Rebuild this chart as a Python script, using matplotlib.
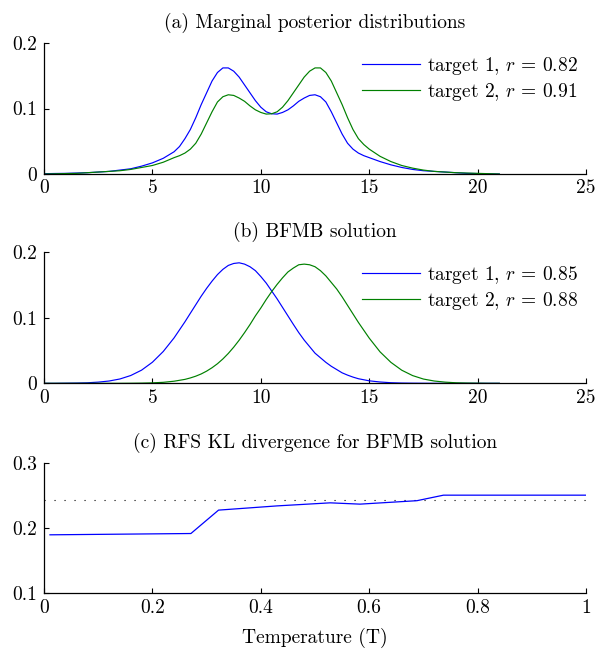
"""
Marginal posteriors, BFMB solution and RFS KL divergence vs temperature.
"""

import matplotlib
matplotlib.use('Agg')
import matplotlib.pyplot as plt

# ---- data ----
# (a) marginal posteriors: coarse tails, finer steps through the two humps
X_A = [0, 0.5, 1, 1.5, 2, 2.5, 3, 3.5, 4, 4.5, 5, 5.5,
       6, 6.25, 6.5, 6.75, 7, 7.25, 7.5, 7.75, 8, 8.25, 8.5, 8.75, 9, 9.25, 9.5, 9.75,
       10, 10.25, 10.5, 10.75, 11, 11.25, 11.5, 11.75, 12, 12.25, 12.5, 12.75,
       13, 13.25, 13.5, 13.75, 14, 14.25, 14.5, 14.75, 15,
       15.5, 16, 16.5, 17, 17.5, 18, 18.5, 19, 19.5, 20, 20.5, 21]
MARG_T1 = [0.0005, 0.0008, 0.001, 0.0015, 0.002, 0.003, 0.004, 0.006, 0.008, 0.012, 0.017, 0.024,
           0.034, 0.042, 0.054, 0.068, 0.086, 0.106, 0.124, 0.142, 0.155, 0.162, 0.162, 0.157,
           0.148, 0.136, 0.124, 0.112,
           0.102, 0.095, 0.092, 0.0915, 0.094, 0.098, 0.104, 0.111, 0.116, 0.120, 0.121, 0.118,
           0.110, 0.095, 0.078, 0.061, 0.047, 0.038, 0.032, 0.028, 0.025,
           0.019, 0.014, 0.010, 0.007, 0.005, 0.004, 0.003, 0.002, 0.001, 0.0007, 0.0003, 0.0]
MARG_T2 = [0.0, 0.0003, 0.0007, 0.001, 0.002, 0.003, 0.004, 0.005, 0.007, 0.010, 0.013, 0.018,
           0.025, 0.028, 0.032, 0.038, 0.047, 0.061, 0.078, 0.095, 0.110, 0.118, 0.121, 0.120,
           0.116, 0.111, 0.104, 0.098,
           0.094, 0.0915, 0.092, 0.095, 0.102, 0.112, 0.124, 0.136, 0.148, 0.157, 0.162, 0.162,
           0.155, 0.142, 0.124, 0.106, 0.086, 0.068, 0.054, 0.045, 0.038,
           0.027, 0.019, 0.013, 0.009, 0.006, 0.004, 0.003, 0.002, 0.0015, 0.001, 0.0005, 0.0]

# (b) BFMB solution
X_B = [0, 0.5, 1, 1.5, 2, 2.5, 3, 3.5, 4, 4.5, 5, 5.5, 6,
       6.5, 6.75, 7, 7.25, 7.5, 7.75, 8, 8.25, 8.5, 8.75, 9, 9.25, 9.5, 9.75,
       10, 10.25, 10.5, 10.75, 11, 11.25, 11.5, 11.75, 12, 12.25, 12.5, 12.75,
       13, 13.25, 13.5, 13.75, 14, 14.25, 14.5,
       15, 15.5, 16, 16.5, 17, 17.5, 18, 18.5, 19, 19.5, 20, 20.5, 21]
BFMB_T1 = [0.0, 0.0, 0.0002, 0.0004, 0.0008, 0.0018, 0.0035, 0.0066, 0.0119, 0.0201, 0.0322, 0.0486, 0.0694,
           0.0939, 0.107, 0.120, 0.133, 0.145, 0.156, 0.166, 0.174, 0.180, 0.183, 0.184, 0.182, 0.178, 0.172,
           0.163, 0.153, 0.141, 0.129, 0.116, 0.103, 0.090, 0.0774, 0.066, 0.056, 0.046, 0.039,
           0.032, 0.026, 0.021, 0.016, 0.0125, 0.0095, 0.007,
           0.0038, 0.0020, 0.0009, 0.0004, 0.0002, 0.0001, 0.0, 0.0, 0.0, 0.0, 0.0, 0.0, 0.0]
BFMB_T2 = [0.0, 0.0, 0.0, 0.0, 0.0, 0.0, 0.0, 0.0, 0.0001, 0.0003, 0.0007, 0.0015, 0.0032,
           0.006, 0.0082, 0.0109, 0.0143, 0.0186, 0.0238, 0.0299, 0.0372, 0.0456, 0.0552, 0.0658, 0.0774, 0.0897, 0.103,
           0.115, 0.128, 0.140, 0.151, 0.161, 0.170, 0.176, 0.181, 0.182, 0.181, 0.178, 0.172,
           0.164, 0.154, 0.144, 0.132, 0.119, 0.106, 0.093,
           0.069, 0.048, 0.032, 0.020, 0.0118, 0.0065, 0.0035, 0.0018, 0.0008, 0.0004, 0.0002, 0.0, 0.0]

LABELS_A = [r'target 1, $r\,=\,0.82$', r'target 2, $r\,=\,0.91$']
LABELS_B = [r'target 1, $r\,=\,0.85$', r'target 2, $r\,=\,0.88$']

# (c) KL divergence vs temperature
TEMP = [0.011, 0.271, 0.322, 0.43, 0.528, 0.583, 0.688, 0.737, 1.0]
KL = [0.190, 0.192, 0.228, 0.2345, 0.2392, 0.2372, 0.2425, 0.251, 0.251]
KL_REF = 0.2435

BLUE = '#0000ff'
GREEN = '#008000'
FS = 14

plt.rcParams['font.family'] = 'cmr10'
plt.rcParams['mathtext.fontset'] = 'cm'
plt.rcParams['axes.formatter.use_mathtext'] = True
plt.rcParams['font.size'] = FS


def style_axis(ax):
    for side in ['top', 'right']:
        ax.spines[side].set_visible(False)
    for side in ['left', 'bottom']:
        ax.spines[side].set_linewidth(0.9)
    ax.tick_params(direction='in', length=3.8, width=0.8, pad=4, labelsize=FS)
    ax.tick_params(axis='y', pad=5)


def density_panel(ax, x, y1, y2, labels, title):
    ax.plot(x, y1, color=BLUE, lw=0.85, label=labels[0])
    ax.plot(x, y2, color=GREEN, lw=0.85, label=labels[1])
    ax.set_xlim(0, 25)
    ax.set_ylim(0, 0.2)
    ax.set_xticks([0, 5, 10, 15, 20, 25], ['0', '5', '10', '15', '20', '25'])
    ax.set_yticks([0, 0.1, 0.2], ['0', '0.1', '0.2'])
    ax.set_title(title, fontsize=FS, pad=11)
    ax.legend(loc='upper right', bbox_to_anchor=(1.0, 0.97), frameon=False,
              handlelength=3.0, handletextpad=0.38, labelspacing=0.2,
              borderaxespad=0.0, fontsize=FS)
    style_axis(ax)


fig = plt.figure(figsize=(5.98, 6.51), dpi=100)
ax_a = fig.add_axes([0.0736, 0.7327, 0.9064, 0.2012])
ax_b = fig.add_axes([0.0736, 0.4112, 0.9064, 0.2012])
ax_c = fig.add_axes([0.0736, 0.0886, 0.9064, 0.1997])

density_panel(ax_a, X_A, MARG_T1, MARG_T2, LABELS_A, '(a) Marginal posterior distributions')
density_panel(ax_b, X_B, BFMB_T1, BFMB_T2, LABELS_B, '(b) BFMB solution')

ax_c.plot([0, 1], [KL_REF, KL_REF], color='black', lw=0.8, dashes=(1, 8))
ax_c.plot(TEMP, KL, color=BLUE, lw=0.9)
ax_c.set_xlim(0, 1)
ax_c.set_ylim(0.1, 0.3)
ax_c.set_xticks([0, 0.2, 0.4, 0.6, 0.8, 1], ['0', '0.2', '0.4', '0.6', '0.8', '1'])
ax_c.set_yticks([0.1, 0.2, 0.3], ['0.1', '0.2', '0.3'])
ax_c.set_title('(c) RFS KL divergence for BFMB solution', fontsize=FS, pad=11)
ax_c.set_xlabel('Temperature (T)', fontsize=FS, labelpad=8)
style_axis(ax_c)

fig.savefig('out.png', dpi=100)
plt.close(fig)
